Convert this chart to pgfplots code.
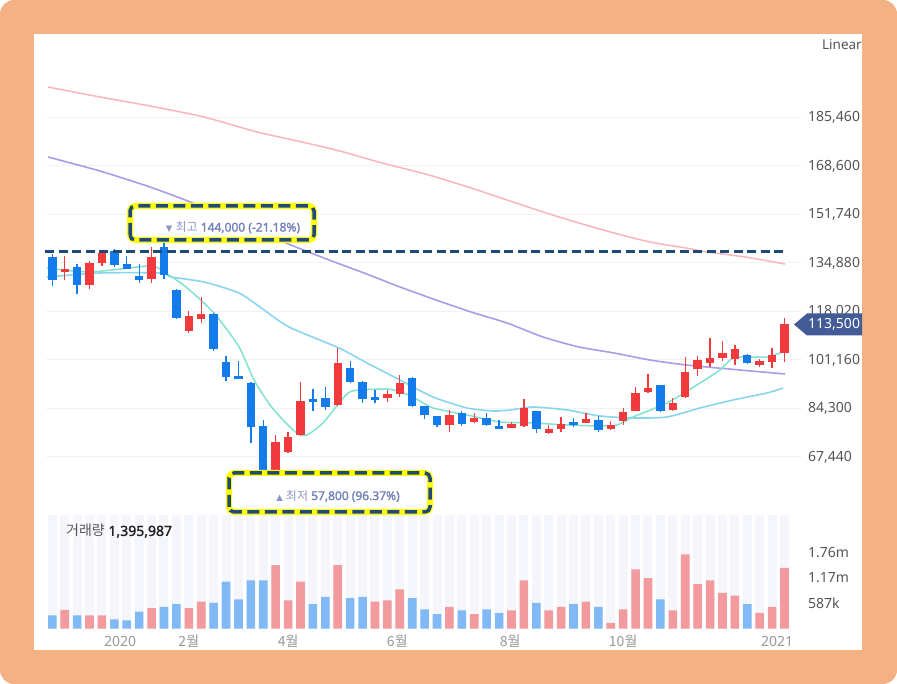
\documentclass[border=0pt]{standalone}
\usepackage{pgfplots}
\pgfplotsset{compat=1.18}
\usepackage{pgfplotstable}
\usepackage{fontspec}
\setmainfont{Noto Sans}[AutoFakeBold=1.6]
\newfontfamily\kr{Noto Sans CJK KR}
\newfontfamily\dv{DejaVu Sans}
\definecolor{framec}{HTML}{F4B183}
\definecolor{cred}{HTML}{F03A3E}
\definecolor{cblue}{HTML}{137BEA}
\definecolor{vred}{HTML}{F29A9D}
\definecolor{vblue}{HTML}{80B9F5}
\definecolor{stripe}{HTML}{F4F6FC}
\definecolor{gridc}{HTML}{F0F2F5}
\definecolor{mapink}{HTML}{F8B6BA}
\definecolor{mapurple}{HTML}{A99CE8}
\definecolor{macyan}{HTML}{8AD5EE}
\definecolor{mateal}{HTML}{80E2D0}
\definecolor{navy}{HTML}{1F4A78}
\definecolor{ylw}{HTML}{FFFF00}
\definecolor{annot}{HTML}{7380B8}
\definecolor{annotl}{HTML}{8E97C4}
\definecolor{tagc}{HTML}{435B97}
\definecolor{labc}{HTML}{555555}
\definecolor{xlabc}{HTML}{999999}

% up (red) candles: index, open, high, low, close
\pgfplotstableread{
i o h l c
1 131700 137300 129000 132700
3 127200 135700 125700 135000
4 135000 139400 133800 138200
8 129200 140300 128000 137100
11 111300 118300 110600 116500
12 115300 123200 114100 117100
18 59800 75100 57800 72600
19 69100 76200 68700 74300
20 75100 93600 74900 87000
23 85500 105200 85300 100200
27 87800 90700 86700 89300
28 89300 95900 88400 93300
32 78400 83800 76100 82200
34 79500 82800 79200 80900
37 77500 79700 77400 78900
38 78200 87500 77800 84400
40 75900 78600 75400 77100
41 77100 81200 76200 78900
43 79400 82800 79200 80500
45 77100 80100 76800 78700
46 80000 84400 78600 83100
47 83500 91600 83400 89700
48 89900 96400 89600 91300
50 83800 87800 83500 86100
51 88200 102300 87800 97100
52 97900 102500 95600 101200
53 100200 108700 98600 101700
54 101700 107800 100900 103700
55 101400 106300 99400 104900
57 99400 101400 98600 100800
58 100600 105200 98300 102900
59 103700 115900 100600 113500
}\upT
% down (blue) candles
\pgfplotstableread{
i o h l c
0 137100 138000 126900 129000
2 133600 134500 124100 127200
5 139200 139600 133400 134200
6 134500 137300 132700 132800
7 130500 134500 127800 129000
9 140500 144000 129200 130700
10 125500 125700 115300 115700
13 117100 117400 104400 104900
14 100500 102400 94000 95400
15 95500 100900 94600 94700
16 93300 93400 72400 78000
17 78300 80300 60100 60600
21 87500 91000 83500 86600
22 87800 91700 83800 84700
24 98300 100900 93100 93600
25 93600 93700 86100 87500
26 88400 90700 86300 87300
29 94800 95100 84700 85200
30 85200 85300 80500 82000
31 81700 81800 77800 78600
33 82800 83500 78200 78900
35 80900 82800 78200 78600
36 78200 80300 77200 77300
39 83500 83600 75900 77100
42 79700 80900 77800 78600
44 80300 81700 76200 76800
49 92500 92600 83200 83500
56 102900 103200 99800 100200
}\downT
% volume (millions)
\pgfplotstableread{
i v
1 0.43
3 0.30
4 0.30
8 0.47
11 0.47
12 0.62
18 1.46
19 0.65
20 1.08
23 1.46
26 0.62
27 0.65
28 0.90
32 0.50
34 0.33
37 0.42
38 1.11
40 0.42
41 0.50
43 0.62
45 0.13
46 0.44
47 1.36
48 1.16
50 0.42
51 1.71
52 1.02
53 1.11
54 0.82
55 0.76
57 0.36
58 0.50
59 1.396
}\vupT
\pgfplotstableread{
i v
0 0.30
2 0.30
5 0.21
6 0.19
7 0.39
9 0.50
10 0.56
13 0.59
14 1.08
15 0.67
16 1.11
17 1.11
21 0.56
22 0.73
24 0.70
25 0.73
29 0.70
30 0.44
31 0.33
33 0.42
35 0.44
36 0.36
39 0.59
42 0.56
44 0.50
49 0.67
56 0.56
}\vdownT

\begin{document}
\begin{tikzpicture}
\useasboundingbox (0,0) rectangle (897bp,684bp);
\fill[white] (0,0) rectangle (897bp,684bp);
\fill[framec, rounded corners=14bp] (0,0) rectangle (897bp,684bp);
\fill[white] (34bp,34bp) rectangle (862bp,650bp);

% ---------- price panel ----------
\begin{axis}[
  at={(46bp,179bp)}, anchor=south west,
  width=756bp, height=470bp, scale only axis,
  xmin=-0.508, xmax=60.41, ymin=50755, ymax=214127,
  axis line style={draw=none},
  major tick length=0pt,
  scaled x ticks=false, scaled y ticks=false,
  xtick=\empty,
  ytick={67440,84300,101160,118020,134880,151740,168600,185460},
  yticklabels={{67,440},{84,300},{101,160},{118,020},{134,880},{151,740},{168,600},{185,460}},
  yticklabel pos=right,
  yticklabel style={anchor=west, inner sep=0pt, xshift=6bp,
    font=\fontsize{14bp}{16bp}\selectfont, text=labc},
  ymajorgrids, grid style={gridc, line width=1bp},
]
\addplot[mapink, line width=1.5bp, smooth, tension=0.4] coordinates {
(-0.35,196052) (3.84,192576) (7.87,189448) (12.22,185624) (16.5,180410)
(19.4,177629) (22.86,174153) (26.57,169634) (30.36,165463) (33.74,160944)
(36.64,156773) (39.54,152602) (42.44,148778) (45.26,145302) (48.16,142174)
(51.07,140088) (52.76,138698) (55.82,136960) (59.04,134527)};
\addplot[mapurple, line width=1.6bp, smooth, tension=0.4] coordinates {
(-0.35,171720) (3.84,166854) (7.87,161292) (11.33,155730) (15.12,148778)
(18.83,141826) (22.3,135917) (25.12,131398) (28.02,126532) (30.92,122013)
(33.74,117842) (36.64,114018) (39.54,109152) (42.44,105676) (45.26,103590)
(48.16,101157) (51.07,99419) (55.42,97681) (59.04,96291)};
\addplot[macyan, line width=1.6bp, smooth, tension=0.4] coordinates {
(-0.43,130008) (3.84,131398) (8.68,131398) (9.57,130008) (12.22,128270)
(15.05,124446) (17.06,118537) (19.07,112628) (23.1,105328) (25.36,100114)
(27.7,94900) (30.68,88296) (33.42,84472) (35.51,83430) (36.88,83777)
(38.74,84820) (41.48,83777) (44.14,81692) (46.79,80996) (49.53,81344)
(52.19,84472) (54.85,87253) (57.59,89686) (58.88,91424)};
\addplot[mateal, line width=1.5bp, smooth, tension=0.4] coordinates {
(-0.43,133136) (3.04,131746) (7.87,133832) (9.0,131746) (10.77,126532)
(13.03,117494) (15.05,105676) (16.25,94205) (17.54,85515) (18.75,79606)
(19.72,75782) (20.52,75087) (21.81,79258) (23.18,86558) (24.15,90382)
(26.97,91077) (28.02,90034) (29.07,88296) (30.68,84472) (33.42,82039)
(36.08,79606) (38.74,79258) (41.48,78563) (44.14,78216) (45.5,78563)
(46.79,81344) (49.53,86210) (52.19,93162) (53.80,97681) (54.85,101852)
(56.22,102200) (57.59,102200) (58.88,103938)};
% wicks
\addplot[draw=none, mark=none, forget plot,
  error bars/.cd, y dir=both, y explicit, error mark=none,
  error bar style={draw=cred, line width=1.3bp}]
  table[x=i, y expr={(\thisrow{h}+\thisrow{l})/2}, y error expr={(\thisrow{h}-\thisrow{l})/2}] {\upT};
\addplot[draw=none, mark=none, forget plot,
  error bars/.cd, y dir=both, y explicit, error mark=none,
  error bar style={draw=cblue, line width=1.3bp}]
  table[x=i, y expr={(\thisrow{h}+\thisrow{l})/2}, y error expr={(\thisrow{h}-\thisrow{l})/2}] {\downT};
% bodies
\addplot[draw=none, mark=none, forget plot,
  error bars/.cd, y dir=both, y explicit, error mark=none,
  error bar style={draw=cred, line width=8.4bp}]
  table[x=i, y expr={(\thisrow{o}+\thisrow{c})/2}, y error expr={max(abs(\thisrow{c}-\thisrow{o})/2,200)}] {\upT};
\addplot[draw=none, mark=none, forget plot,
  error bars/.cd, y dir=both, y explicit, error mark=none,
  error bar style={draw=cblue, line width=8.4bp}]
  table[x=i, y expr={(\thisrow{o}+\thisrow{c})/2}, y error expr={max(abs(\thisrow{c}-\thisrow{o})/2,200)}] {\downT};
\end{axis}

% ---------- volume panel ----------
\begin{axis}[
  at={(46bp,55.5bp)}, anchor=south west,
  width=756bp, height=113.5bp, scale only axis,
  xmin=-0.508, xmax=60.41, ymin=0, ymax=2.615,
  axis line style={draw=none},
  major tick length=0pt, minor tick length=0pt,
  scaled x ticks=false, scaled y ticks=false,
  xtick={5.46,11.0,19.0,27.8,36.9,46.0,58.4},
  xticklabels={2020,{\kr 2월},{\kr 4월},{\kr 6월},{\kr 8월},{\kr 10월},2021},
  xticklabel style={anchor=center, inner sep=0pt, yshift=-12.5bp,
    font=\fontsize{14bp}{16bp}\selectfont, text=xlabc},
  minor xtick={0,1,...,59},
  xminorgrids, minor grid style={stripe, line width=9bp},
  ytick={0.587,1.174,1.761},
  yticklabels={587k,1.17m,1.76m},
  yticklabel pos=right,
  yticklabel style={anchor=west, inner sep=0pt, xshift=6bp,
    font=\fontsize{14bp}{16bp}\selectfont, text=labc},
]
\addplot[ybar, bar width=8.6bp, bar shift=0pt, fill=vred, draw=none] table[x=i, y=v] {\vupT};
\addplot[ybar, bar width=8.6bp, bar shift=0pt, fill=vblue, draw=none] table[x=i, y=v] {\vdownT};
\end{axis}

% ---------- annotations ----------
\draw[navy, line width=3bp, dash pattern=on 9bp off 4.5bp] (45bp,432bp) -- (787bp,432bp);

\draw[ylw, line width=6bp, rounded corners=5bp, fill=white] (130bp,444bp) rectangle (314bp,478bp);
\draw[navy, line width=3.5bp, rounded corners=5bp, dash pattern=on 12bp off 5.5bp] (130bp,444bp) rectangle (314bp,478bp);
\node[text=annot, font=\fontsize{12bp}{14bp}\selectfont, inner sep=0pt] at (233bp,456.5bp)
  {{\color{annotl}{\dv\fontsize{8.5bp}{10bp}\selectfont ▼} {\kr 최고}} \textbf{144,000 (-21.18\%)}};

\draw[ylw, line width=6bp, rounded corners=5bp, fill=white] (229bp,172bp) rectangle (430bp,211bp);
\draw[navy, line width=3.5bp, rounded corners=5bp, dash pattern=on 12bp off 5.5bp] (229bp,172bp) rectangle (430bp,211bp);
\node[text=annot, font=\fontsize{12bp}{14bp}\selectfont, inner sep=0pt] at (338bp,188bp)
  {{\color{annotl}{\dv\fontsize{8.5bp}{10bp}\selectfont ▲} {\kr 최저}} \textbf{57,800 (96.37\%)}};

% current price tag
\fill[tagc] (794bp,359.5bp) -- (807bp,370.5bp) -- (862bp,370.5bp) -- (862bp,348.5bp) -- (807bp,348.5bp) -- cycle;
\node[text=white, font=\fontsize{14bp}{16bp}\selectfont, inner sep=0pt, anchor=west] at (808bp,359.5bp) {113,500};

\node[text=labc, font=\fontsize{13.5bp}{16bp}\selectfont, inner sep=0pt, anchor=east] at (862bp,639bp) {Linear};

\node[anchor=west, inner sep=0pt, font=\fontsize{14bp}{16bp}\selectfont] at (66bp,153bp)
  {{\kr\color{labc}거래량} \textbf{\color[HTML]{222222}1,395,987}};
\end{tikzpicture}
\end{document}
